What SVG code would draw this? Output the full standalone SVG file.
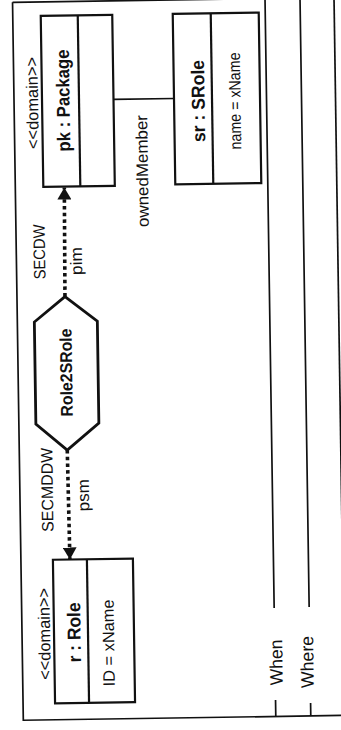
<svg xmlns="http://www.w3.org/2000/svg" width="341" height="730" viewBox="0 0 341 730">
<style>
.ln{fill:none;stroke:#111;stroke-width:1.7}
.box{fill:#fff;stroke:#111;stroke-width:2.2}
.hex{fill:#fff;stroke:#111;stroke-width:2.8}
.dot{fill:none;stroke:#111;stroke-width:3.6;stroke-dasharray:3.5 3.2}
.t{font-family:"Liberation Sans",Arial,sans-serif;font-size:16.5px;fill:#111;text-anchor:middle}
.b{font-weight:bold;font-size:18.5px}
</style>
<defs>
<marker id="ah" viewBox="0 0 12 14" refX="12" refY="7" markerWidth="12" markerHeight="14" markerUnits="userSpaceOnUse" orient="auto">
<path d="M0,0 L12,7 L0,14 z" fill="#111"/>
</marker>
</defs>
<rect width="341" height="730" fill="#fff"/>
<g transform="rotate(-0.86 170 365)">
<g id="frame">
<path class="ln" d="M18 0 H360 M18 0 V718 H360"/>
<path class="ln" d="M270.5 -20 V609.5 M270.5 701.5 V718"/>
<path class="ln" d="M305.5 -20 V609 M305.5 705 V718"/>
<path class="ln" d="M339.5 -20 V718"/>
<text class="t" style="font-size:18px" textLength="46" lengthAdjust="spacingAndGlyphs" transform="translate(278 664) rotate(-90)">When</text>
<text class="t" style="font-size:18px" textLength="52" lengthAdjust="spacingAndGlyphs" transform="translate(309 664) rotate(-90)">Where</text>
</g>
<g id="connectors">
<path class="ln" d="M117.5 98.6 H178"/>
<text class="t" textLength="112" lengthAdjust="spacingAndGlyphs" transform="translate(150.9 170.7) rotate(-90)">ownedMember</text>
<path class="dot" d="M66 295 L67 186" marker-end="url(#ah)"/>
<text class="t" textLength="55" lengthAdjust="spacingAndGlyphs" transform="translate(46.7 250) rotate(-90)">SECDW</text>
<text class="t" textLength="28" lengthAdjust="spacingAndGlyphs" transform="translate(83.6 259.7) rotate(-90)">pim</text>
<path class="dot" d="M66 448.5 L67 558" marker-end="url(#ah)"/>
<text class="t" textLength="84" lengthAdjust="spacingAndGlyphs" transform="translate(51 488) rotate(-90)">SECMDDW</text>
<text class="t" textLength="32" lengthAdjust="spacingAndGlyphs" transform="translate(87 494) rotate(-90)">psm</text>
</g>
<g id="pk">
<rect class="box" x="46" y="14" width="71.5" height="171"/>
<path class="ln" d="M83 14 V185" style="stroke-width:2.2"/>
<text class="t" textLength="92" lengthAdjust="spacingAndGlyphs" transform="translate(42 101) rotate(-90)">&lt;&lt;domain&gt;&gt;</text>
<text class="t b" textLength="102" lengthAdjust="spacingAndGlyphs" transform="translate(73.5 99) rotate(-90)">pk : Package</text>
</g>
<g id="sr">
<rect class="box" x="178" y="14" width="86" height="170.5"/>
<path class="ln" d="M216 14 V184.5" style="stroke-width:2.2"/>
<text class="t b" textLength="82" lengthAdjust="spacingAndGlyphs" transform="translate(208.5 101.5) rotate(-90)">sr : SRole</text>
<text class="t" textLength="97" lengthAdjust="spacingAndGlyphs" transform="translate(244.5 102) rotate(-90)">name = xName</text>
</g>
<g id="role2srole">
<polygon class="hex" points="66,295 98,320 98,422 66,448.5 35,422 35,320"/>
<text class="t b" style="font-size:17px" textLength="88" lengthAdjust="spacingAndGlyphs" transform="translate(72 371) rotate(-90)">Role2SRole</text>
</g>
<g id="r">
<rect class="box" x="50" y="558" width="80" height="143.5"/>
<path class="ln" d="M84 558 V701.5" style="stroke-width:2.2"/>
<text class="t" textLength="92" lengthAdjust="spacingAndGlyphs" transform="translate(46 632) rotate(-90)">&lt;&lt;domain&gt;&gt;</text>
<text class="t b" textLength="60" lengthAdjust="spacingAndGlyphs" transform="translate(76.5 631) rotate(-90)">r : Role</text>
<text class="t" textLength="87" lengthAdjust="spacingAndGlyphs" transform="translate(110 642) rotate(-90)">ID = xName</text>
</g>
</g>
</svg>
